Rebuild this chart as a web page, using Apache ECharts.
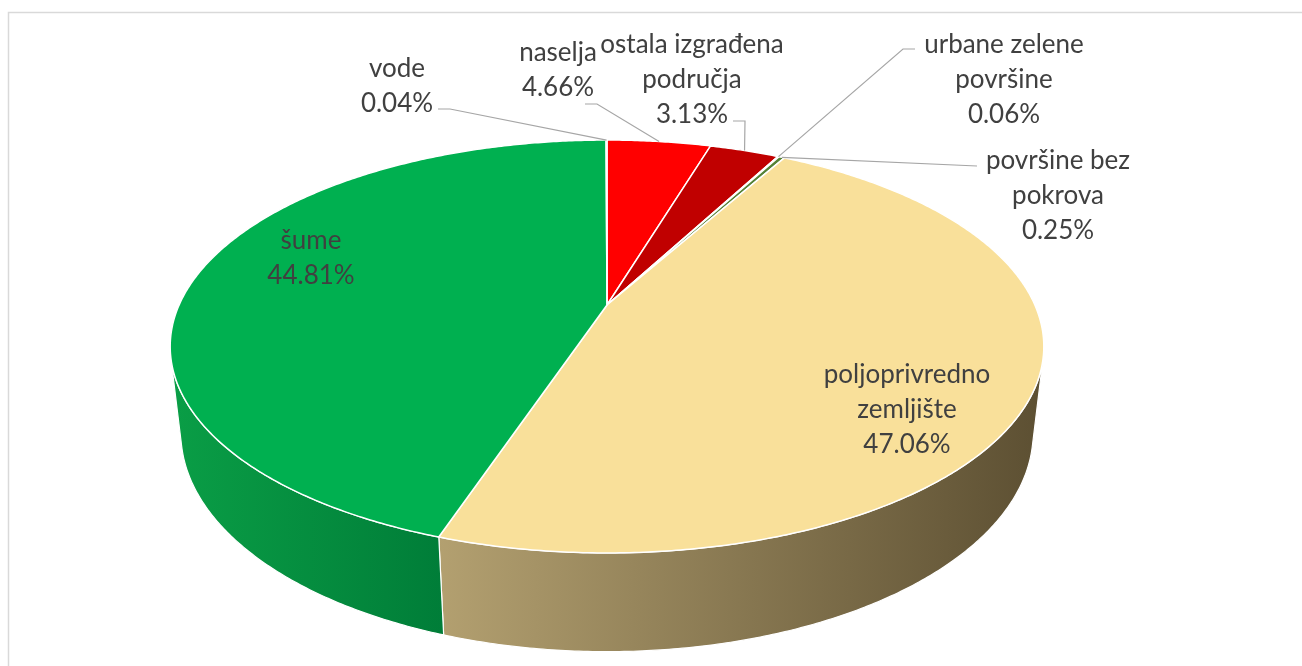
<!DOCTYPE html>
<html>
<head>
<meta charset="utf-8">
<script src="https://cdn.jsdelivr.net/npm/echarts@6/dist/echarts.min.js"></script>
<style>
  html, body { margin: 0; padding: 0; background: #ffffff; }
  #chart { width: 1302px; height: 666px; }
</style>
</head>
<body>
<div id="chart"></div>
<script>
// Land cover categories, clockwise from 12 o'clock
const categories = [
  'naselja',
  'ostala izgrađena\npodručja',
  'urbane zelene\npovršine',
  'površine bez\npokrova',
  'poljoprivredno\nzemljište',
  'šume',
  'vode'
];
// Share of total area, %
const shares = [4.66, 3.13, 0.06, 0.25, 47.06, 44.81, 0.04];

// Face colours of the top of each slice and the gradient of its rim
const topColors = ['#FF0000', '#C00000', '#A9D18E', '#548235', '#F9E09A', '#00B050', '#0070C0'];
const sideColors = [
  ['#C00000', '#900000'],
  ['#900000', '#700000'],
  ['#7FA86A', '#5E8050'],
  ['#3E6428', '#2E4A1E'],
  ['#B3A070', '#5C4F32'],
  ['#0A9E46', '#007D38'],
  ['#005A9A', '#004070']
];

// Label placement: centre of the text block and start of the leader line
const labelLayout = [
  { x: 558, y: 70,  leader: [[585, 104], [597, 104]] },
  { x: 692, y: 80,  leader: [[733, 121], [745, 121]] },
  { x: 1004, y: 80, leader: [[915, 49], [903, 49]] },
  { x: 1058, y: 196, leader: [[977, 166]] },
  { x: 907, y: 410, leader: null },
  { x: 311, y: 258, leader: null },
  { x: 397, y: 86,  leader: [[438, 109], [450, 109]] }
];

// Tilted disc with perspective: centre, focal length, camera distance,
// sine of the view elevation and disc thickness (unit radius)
const PIE = { cx: 607, cy: 305, f: 1887, D: 4.41, sinT: 0.463, h: 0.23 };
PIE.cosT = Math.sqrt(1 - PIE.sinT * PIE.sinT);

function project(theta, y) {
  const X = Math.sin(theta), Z = Math.cos(theta);
  const depth = PIE.D + Z * PIE.cosT - y * PIE.sinT;
  return [PIE.cx + PIE.f * X / depth, PIE.cy - PIE.f * (Z * PIE.sinT + y * PIE.cosT) / depth];
}
// Angular range in which the rim faces the camera
const visA = Math.acos(-1 / (PIE.D * PIE.cosT));
const visB = 2 * Math.PI - visA;

const total = shares.reduce((a, b) => a + b, 0);
let acc = 0;
const sliceData = shares.map(v => {
  const item = [acc / total, v / total, v];
  acc += v;
  return item;
});

function arcPoints(t0, t1, y) {
  const n = Math.max(2, Math.ceil((t1 - t0) / (Math.PI / 360)));
  const pts = [];
  for (let i = 0; i <= n; i++) pts.push(project(t0 + (t1 - t0) * i / n, y));
  return pts;
}

function renderSlice(params, api) {
  const i = params.dataIndex;
  const start = api.value(0), frac = api.value(1), pct = api.value(2);
  const t0 = start * 2 * Math.PI, t1 = (start + frac) * 2 * Math.PI;
  const children = [];

  // rim
  const a = Math.max(t0, visA), b = Math.min(t1, visB);
  if (b > a) {
    const topArc = arcPoints(a, b, 0);
    const botArc = arcPoints(a, b, -PIE.h).reverse();
    children.push({
      type: 'polygon',
      z2: 1,
      shape: { points: topArc.concat(botArc) },
      style: {
        fill: {
          type: 'linear', x: 0, y: 0, x2: 1, y2: 0,
          colorStops: [{ offset: 0, color: sideColors[i][0] }, { offset: 1, color: sideColors[i][1] }]
        },
        stroke: '#ffffff', lineWidth: 1.2
      }
    });
  }

  // top face
  const top = [[PIE.cx, PIE.cy]].concat(arcPoints(t0, t1, 0));
  children.push({
    type: 'polygon',
    z2: 10,
    shape: { points: top },
    style: { fill: topColors[i], stroke: '#ffffff', lineWidth: 1.5 }
  });

  // leader line to the rim at the slice's middle angle
  const lay = labelLayout[i];
  if (lay.leader) {
    const mid = project((t0 + t1) / 2, 0);
    children.push({
      type: 'polyline',
      z2: 20,
      shape: { points: lay.leader.concat([mid]) },
      style: { fill: null, stroke: '#A6A6A6', lineWidth: 1.2 }
    });
  }

  children.push({
    type: 'text',
    z2: 30,
    x: lay.x,
    y: lay.y,
    style: {
      text: categories[i] + '\n' + pct.toFixed(2) + '%',
      fill: '#404040',
      fontSize: 26,
      fontFamily: 'Lato',
      align: 'center',
      verticalAlign: 'middle',
      lineHeight: 35
    }
  });

  return { type: 'group', children: children };
}

const chart = echarts.init(document.getElementById('chart'), null, { renderer: 'canvas' });
chart.setOption({
  backgroundColor: '#ffffff',
  animation: false,
  graphic: [{
    type: 'rect',
    shape: { x: 8.5, y: 12.5, width: 1400, height: 800 },
    style: { fill: null, stroke: '#D9D9D9', lineWidth: 1.5 },
    silent: true
  }],
  series: [{
    type: 'custom',
    coordinateSystem: 'none',
    silent: true,
    renderItem: renderSlice,
    data: sliceData
  }]
});
</script>
</body>
</html>
